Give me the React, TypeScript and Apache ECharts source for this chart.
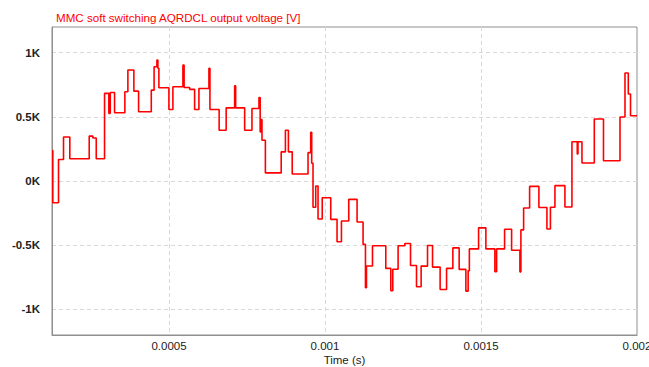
import { useEffect, useRef } from "react";
import * as echarts from "echarts";

const titleText = "MMC soft switching AQRDCL output voltage [V]";
const xAxisName = "Time (s)";
const timeMin = 0.000125;
const timeMax = 0.002;
const voltMin = -1200;
const voltMax = 1200;

// switching instants (microseconds)
const timeUs = [
  125.0, 127.6, 145.9, 161.9, 182.1, 244.3, 255.9, 266.8, 293.4, 307.2, 311.7, 325.5,
  358.5, 368.2, 387.4, 402.5, 443.2, 452.2, 461.2, 464.4, 467.6, 499.7, 512.5, 544.6,
  548.4, 566.1, 582.1, 595.9, 628.0, 631.2, 660.7, 683.2, 710.4, 713.6, 742.5, 765.9,
  788.4, 792.2, 794.5, 798.0, 808.9, 859.6, 873.1, 882.7, 894.9, 945.6, 954.2, 957.4,
  961.6, 970.3, 977.7, 991.1, 1018.4, 1038.6, 1052.7, 1076.1, 1102.8, 1122.0, 1129.7,
  1132.9, 1152.2, 1194.8, 1210.9, 1217.3, 1234.3, 1255.8, 1274.1, 1293.3, 1308.1,
  1328.6, 1344.6, 1369.0, 1389.6, 1409.8, 1430.0, 1451.5, 1458.8, 1462.7, 1492.2,
  1515.6, 1544.5, 1550.0, 1575.6, 1598.1, 1624.7, 1627.9, 1636.6, 1655.8, 1685.6,
  1711.3, 1722.5, 1737.0, 1769.0, 1791.5, 1808.5, 1810.8, 1823.6, 1863.1, 1892.6,
  1945.5, 1961.5, 1972.1, 1979.2, 2000.0,
];

// output voltage level held from each instant (V)
const voltage = [
  238, -170, 167, 343, 173, 350, 335, 173, 683, 527, 690, 532,
  696, 865, 700, 540, 708, 890, 943, 878, 727, 557, 734, 904,
  729, 714, 557, 721, 878, 557, 396, 570, 742, 570, 396, 565,
  651, 383, 479, 318, 63, 227, 396, 227, 55, 221, 379, 138,
  -205, -39, -296, -130, -299, -473, -312, -143, -320, -494, -831,
  -662, -504, -681, -855, -688, -504, -487, -658, -824, -663,
  -503, -671, -845, -681, -521, -689, -858, -700, -529, -365,
  -529, -707, -529, -376, -540, -708, -381, -210, -42, -207,
  -374, -205, -36, -203, 306, 210, 306, 140, 483, 158,
  499, 842, 678, 509, 509,
];

const FONT = "'Liberation Sans', Arial, Helvetica, sans-serif";

export default function App() {
  const ref = useRef<HTMLDivElement>(null);
  useEffect(() => {
    if (!ref.current) return;
    const chart = echarts.init(ref.current, undefined, { renderer: "svg" });
    const data = timeUs.map((t, i) => [t / 1e6, voltage[i]]);
    chart.setOption({
      animation: false,
      backgroundColor: "#ffffff",
      title: {
        text: titleText,
        left: 51,
        top: 6,
        textStyle: { color: "#ff0000", fontSize: 11.6, fontWeight: "normal", fontFamily: FONT },
      },
      grid: {
        left: 52,
        right: 12,
        top: 27,
        bottom: 32,
        show: true,
        borderColor: "#8f8f8f",
        borderWidth: 1,
        backgroundColor: "transparent",
        containLabel: false,
        outerBoundsMode: "none",
      },
      xAxis: {
        type: "value",
        min: timeMin,
        max: timeMax,
        splitNumber: 4,
        minInterval: 0.0005,
        maxInterval: 0.0005,
        name: xAxisName,
        nameLocation: "middle",
        nameGap: 19,
        nameMoveOverlap: false,
        nameTextStyle: { color: "#222", fontSize: 11.5, fontFamily: FONT },
        axisLine: { show: true, onZero: false, lineStyle: { color: "#8f8f8f" } },
        axisTick: { show: false },
        axisLabel: {
          showMinLabel: false,
          margin: 5,
          color: "#222",
          fontSize: 11.5,
          fontFamily: FONT,
        },
        splitLine: {
          show: true,
          showMinLine: false,
          showMaxLine: false,
          lineStyle: { color: "#d9d9d9", type: [4, 3], width: 1 },
        },
      },
      yAxis: {
        type: "value",
        min: voltMin,
        max: voltMax,
        splitNumber: 4,
        minInterval: 500,
        maxInterval: 500,
        axisLine: { show: true, onZero: false, lineStyle: { color: "#8f8f8f" } },
        axisTick: { show: false },
        axisLabel: {
          showMinLabel: false,
          showMaxLabel: false,
          margin: 12,
          color: "#222",
          fontSize: 11.5,
          fontWeight: "bold",
          fontFamily: FONT,
          formatter: (v: number) => `${v / 1000}K`,
        },
        splitLine: {
          show: true,
          showMinLine: false,
          showMaxLine: false,
          lineStyle: { color: "#d9d9d9", type: [4, 3], width: 1 },
        },
      },
      series: [
        {
          type: "line",
          data,
          step: "end",
          showSymbol: false,
          symbol: "none",
          lineStyle: { color: "#ff0000", width: 1.6 },
          itemStyle: { color: "#ff0000" },
          z: 5,
        },
      ],
    });
    return () => chart.dispose();
  }, []);
  return (
    <div
      ref={ref}
      style={{ position: "fixed", left: 0, top: 0, width: 649, height: 367, background: "#fff" }}
    />
  );
}
